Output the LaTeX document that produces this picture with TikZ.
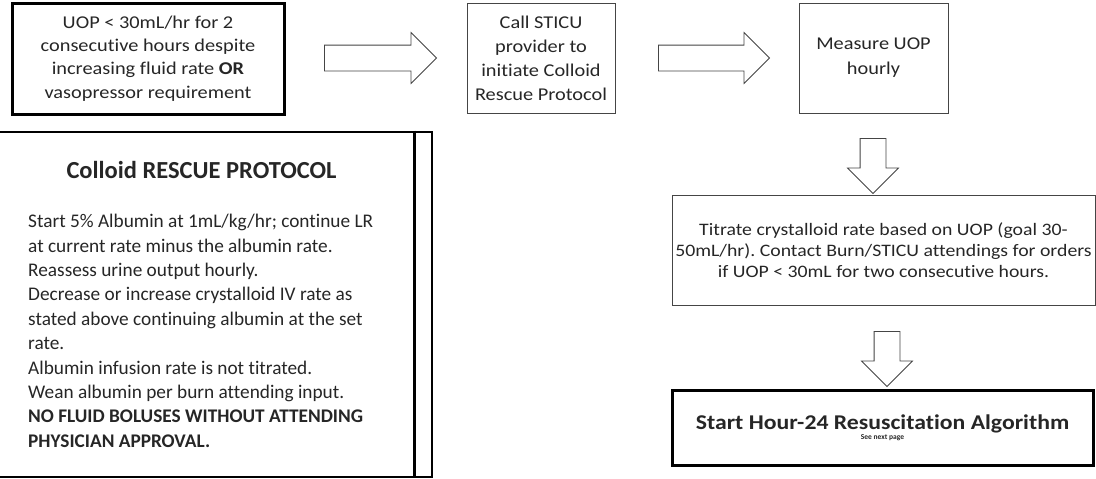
\documentclass[tikz,border=0pt]{standalone}
\usepackage{fontspec}
\setmainfont{Carlito}[Ligatures=NoCommon]
\newfontfamily\wideface{Carlito}[Ligatures=NoCommon,FakeStretch=1.13]
\usetikzlibrary{calc}
\usetikzlibrary{positioning}
\usetikzlibrary{shapes.arrows}

\definecolor{inkgray}{HTML}{262626}
\definecolor{linegray}{HTML}{454545}

\tikzset{
  thinbox/.style={draw=linegray,line width=1pt,text=inkgray,align=center,inner sep=0pt},
  heavybox/.style={draw=black,line width=3pt,text=inkgray,align=center,inner sep=0pt},
  hollowarrow/.style={single arrow,draw=linegray,line width=0.8pt,fill=white,
    inner sep=12.5pt,single arrow head extend=12.5pt,single arrow tip angle=90},
}

\begin{document}
\frenchspacing
\begin{tikzpicture}[x=1pt,y=-1pt]
	\useasboundingbox (0,0) rectangle (1096,479);
	\clip (0,0) rectangle (1096,479);
	%top row of boxes
	\node[heavybox,minimum width=272pt,minimum height=111pt,
		font=\wideface\fontsize{18}{23.3}\selectfont] (trigger) at (148,58.5)
		{UOP < 30mL/hr for 2\\consecutive hours despite\\increasing fluid rate \textbf{OR}\\vasopressor requirement};
	\node[thinbox,minimum width=148pt,minimum height=110pt,
		font=\wideface\fontsize{18}{24}\selectfont] (callsticu) at (541,58)
		{Call STICU\\provider to\\initiate Colloid\\Rescue Protocol};
	\node[thinbox,minimum width=149pt,minimum height=110pt,
		font=\wideface\fontsize{18}{25}\selectfont] (measure) at (873.5,58)
		{Measure UOP\\hourly};
	%right column
	\node[thinbox,minimum width=423pt,minimum height=110pt,
		font=\wideface\fontsize{17.5}{20.7}\selectfont] (titrate) at (883.5,250)
		{Titrate crystalloid rate based on UOP (goal 30-\\50mL/hr). Contact Burn/STICU attendings for orders\\if UOP < 30mL for two consecutive hours.};
	\node[heavybox,minimum width=421pt,minimum height=75pt] (nextalgo) at (882.5,427.5)
		{\wideface\fontsize{21}{22}\selectfont\textbf{Start Hour-24 Resuscitation Algorithm}\\[-2pt]
		 \fontsize{7.5}{8}\selectfont\textbf{See next page}};
	%block arrows between the steps
	\node[hollowarrow,minimum height=112pt] (arrowone) at (374,58) {};
	\node[hollowarrow,minimum height=111pt] (arrowtwo) at (707.5,58) {};
	\node[hollowarrow,minimum height=55pt,shape border rotate=270] (arrowthree) at (873,159.5) {};
	\node[hollowarrow,minimum height=55pt,shape border rotate=270] (arrowfour) at (887,352.5) {};
	%colloid rescue protocol box
	\node[draw=black,line width=2.6pt,minimum width=437pt,minimum height=345pt,inner sep=0pt] (rescue) at (213.5,304.5) {};
	\draw[black,line width=2.6pt] ($(rescue.north east)+(-19,0)$) -- ($(rescue.south east)+(-19,0)$);
	\node[text=inkgray,anchor=base,inner sep=0pt,font=\fontsize{24.5}{26}\selectfont\bfseries] (rescuetitle) at (201.5,178) {Colloid RESCUE PROTOCOL};
	\node[text=inkgray,align=left,anchor=north west,inner sep=0pt,
		font=\fontsize{19.3}{24.4}\selectfont] (rescuesteps) at (28,214)
		{Start 5\% Albumin at 1mL/kg/hr; continue LR\\
		 at current rate minus the albumin rate.\\
		 Reassess urine output hourly.\\
		 Decrease or increase crystalloid IV rate as\\
		 stated above continuing albumin at the set\\
		 rate.\\
		 Albumin infusion rate is not titrated.\\
		 Wean albumin per burn attending input.\\
		 \textbf{NO FLUID BOLUSES WITHOUT ATTENDING}\\
		 \textbf{PHYSICIAN APPROVAL.}};
\end{tikzpicture}
\end{document}
